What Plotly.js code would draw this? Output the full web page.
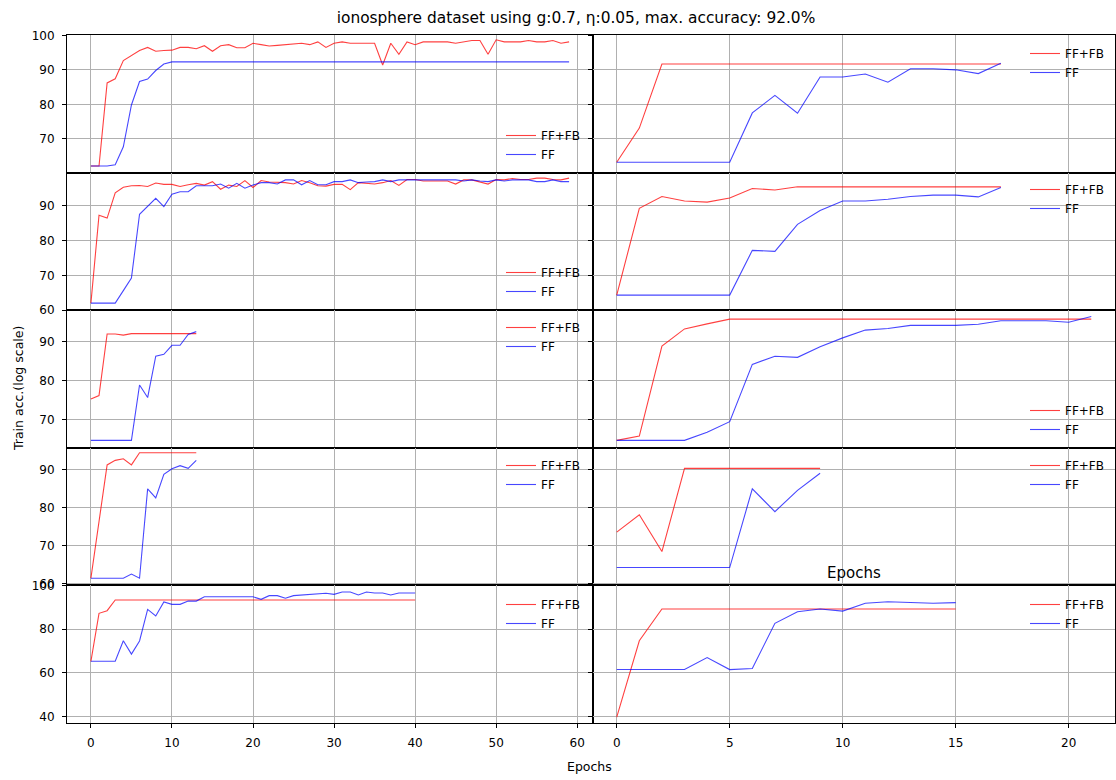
<!DOCTYPE html>
<html>
<head>
<meta charset="utf-8">
<script src="https://cdn.plot.ly/plotly-3.0.1.min.js"></script>
<style>html,body{margin:0;padding:0;background:#fff;}#chart{width:1116px;height:780px;}</style>
</head>
<body>
<div id="chart"></div>
<script>
// ---------------- data ----------------
const seriesNames = ["FF+FB", "FF"];

const r1L_ffb = [62.1,62.1,86.2,87.4,92.7,94.2,95.6,96.5,95.4,95.6,
                 95.7,96.5,96.5,96.1,97.0,95.4,97.0,97.3,96.4,96.4,
                 97.7,97.3,96.9,97.1,97.3,97.7,97.7,97.3,98.1,96.5,
                 97.7,98.1,97.7,97.7,97.7,97.7,91.4,97.7,94.5,98.1,
                 97.3,98.1,98.1,98.1,98.1,97.7,98.1,98.5,98.5,94.5,
                 98.7,98.1,98.1,98.1,98.5,98.1,98.1,98.5,97.7,98.1];
const r1L_ff  = [62.1,62.1,62.1,62.5,67.7,79.8,86.6,87.3,89.8,91.7,
                 92.3,92.3,92.3,92.3,92.3,92.3,92.3,92.3,92.3,92.3,
                 92.3,92.3,92.3,92.3,92.3,92.3,92.3,92.3,92.3,92.3,
                 92.3,92.3,92.3,92.3,92.3,92.3,92.3,92.3,92.3,92.3,
                 92.3,92.3,92.3,92.3,92.3,92.3,92.3,92.3,92.3,92.3,
                 92.3,92.3,92.3,92.3,92.3,92.3,92.3,92.3,92.3,92.3];
const r1R_ffb = [63.2,73.1,91.7,91.7,91.7,91.7,91.7,91.7,91.7,91.7,
                 91.7,91.7,91.7,91.7,91.7,91.7,91.7,91.7];
const r1R_ff  = [63.2,63.2,63.2,63.2,63.2,63.2,77.5,82.6,77.4,87.9,
                 87.9,88.8,86.4,90.3,90.3,90.0,88.9,91.9];

const r2L_ffb = [62.0,87.3,86.5,93.8,95.4,95.8,95.9,95.6,96.6,96.2,
                 96.2,95.6,96.1,96.5,96.0,97.0,94.8,96.0,95.6,97.3,
                 95.3,97.3,96.9,96.9,96.7,96.3,97.3,96.7,95.8,95.7,
                 96.2,96.2,94.7,96.7,96.5,96.3,96.7,97.3,95.9,97.6,
                 97.6,97.2,97.2,97.2,97.2,96.3,97.5,97.5,96.8,96.3,
                 97.6,97.5,97.9,97.6,97.6,98.0,98.0,97.6,97.5,98.0];
const r2L_ff  = [62.0,62.0,62.0,62.0,65.6,69.2,87.6,89.8,92.2,89.8,
                 93.4,94.1,94.1,95.8,95.8,95.8,96.3,95.1,96.5,95.1,
                 96.0,96.7,96.7,96.3,97.5,97.5,96.1,97.3,96.1,96.1,
                 97.0,97.0,97.5,96.7,96.9,97.0,97.5,97.0,97.5,97.5,
                 97.3,97.3,97.3,97.3,97.3,97.5,97.2,97.5,97.2,97.0,
                 97.5,97.2,97.5,97.5,97.5,97.0,97.0,97.5,97.0,97.0];
const r2R_ffb = [64.3,89.3,92.7,91.4,91.1,92.3,95.0,94.6,95.5,95.5,
                 95.5,95.5,95.5,95.5,95.5,95.5,95.5,95.5];
const r2R_ff  = [64.3,64.3,64.3,64.3,64.3,64.3,77.2,76.9,84.7,88.7,
                 91.4,91.4,91.9,92.7,93.1,93.1,92.6,95.3];

const r3L_ffb = [75.3,76.2,92.0,92.0,91.7,92.1,92.1,92.1,92.1,92.1,
                 92.1,92.1,92.1,92.1];
const r3L_ff  = [64.7,64.7,64.7,64.7,64.7,64.7,78.9,75.7,86.3,86.8,
                 89.1,89.1,91.9,92.6];
const r3R_ffb = [64.7,65.8,88.9,93.3,94.6,95.8,95.8,95.8,95.8,95.8,
                 95.8,95.8,95.8,95.8,95.8,95.8,95.8,95.8,95.8,95.8,
                 95.8,95.8];
const r3R_ff  = [64.7,64.7,64.7,64.7,66.8,69.5,84.2,86.3,86.0,88.7,
                 91.0,93.0,93.4,94.2,94.2,94.2,94.5,95.4,95.4,95.4,
                 95.0,96.5];

const r4L_ffb = [61.5,76.2,91.3,92.5,92.9,91.3,94.5,94.5,94.5,94.5,
                 94.5,94.5,94.5,94.5];
const r4L_ff  = [61.5,61.5,61.5,61.5,61.5,62.6,61.5,85.0,82.6,88.8,
                 90.3,91.1,90.4,92.5];
const r4R_ffb = [73.6,78.2,68.5,90.4,90.4,90.4,90.4,90.4,90.4,90.4];
const r4R_ff  = [64.3,64.3,64.3,64.3,64.3,64.3,85.0,79.0,84.6,89.1];

const r5L_ffb = [65.3,87.3,88.5,93.4,93.4,93.4,93.4,93.4,93.4,93.4,
                 93.4,93.4,93.4,93.4,93.4,93.4,93.4,93.4,93.4,93.4,
                 93.4,93.4,93.4,93.4,93.4,93.4,93.4,93.4,93.4,93.4,
                 93.4,93.4,93.4,93.4,93.4,93.4,93.4,93.4,93.4,93.4,
                 93.4];
const r5L_ff  = [65.3,65.3,65.3,65.3,74.7,68.6,74.6,89.1,86.1,92.5,
                 91.4,91.4,92.9,92.9,94.9,94.9,94.9,94.6,94.6,94.6,
                 94.9,93.7,95.4,95.4,94.2,95.4,95.7,95.7,96.2,96.5,
                 96.0,97.1,97.1,95.7,97.1,96.6,96.6,95.7,96.6,96.6,
                 96.6];
const r5R_ffb = [39.7,74.7,89.3,89.3,89.3,89.3,89.3,89.3,89.3,89.3,
                 89.3,89.3,89.3,89.3,89.3,89.3];
const r5R_ff  = [61.5,61.5,61.5,61.5,67.0,61.5,62.0,82.7,88.0,89.3,
                 88.3,91.9,92.6,92.3,91.9,92.2];

const leftXTicks  = [0, 10, 20, 30, 40, 50, 60];
const rightXTicks = [0, 5, 10, 15, 20];
const rowYTicks = [[70, 80, 90, 100], [60, 70, 80, 90], [70, 80, 90], [60, 70, 80, 90], [40, 60, 80, 100]];

const titleText = "ionosphere dataset using g:0.7, η:0.05, max. accuracy: 92.0%";
const yLabelText = "Train acc.(log scale)";
const xLabelText = "Epochs";

// ---------------- layout helpers ----------------
const panels = [
  [r1L_ffb, r1L_ff], [r1R_ffb, r1R_ff],
  [r2L_ffb, r2L_ff], [r2R_ffb, r2R_ff],
  [r3L_ffb, r3L_ff], [r3R_ffb, r3R_ff],
  [r4L_ffb, r4L_ff], [r4R_ffb, r4R_ff],
  [r5L_ffb, r5L_ff], [r5R_ffb, r5R_ff]
];
const rowYRange = [[60.2, 100.1], [59.95, 99.6], [62.8, 98.1], [59.6, 95.8], [37.0, 100.1]];
const colXRange = [[-2.95, 61.95], [-1.05, 22.05]];

const W = 1116, H = 780;
const M = {l: 67, r: 1, t: 35, b: 57, autoexpand: false};
const PW = W - M.l - M.r, PH = H - M.t - M.b;
const px2x = p => (p - M.l) / PW;
const px2y = p => (H - M.b - p) / PH;
const colSplit = px2x(593);

// legend placement: [left px of text, centre px of first item]
const legendPos = [
  [541, 135], [1065, 53],
  [541, 272], [1065, 189],
  [541, 327], [1065, 410],
  [541, 465], [1065, 465],
  [541, 604], [1065, 604]
];

const FONT = "DejaVu Sans, Liberation Sans, sans-serif";
const colors = ["rgba(255,0,0,0.75)", "rgba(0,0,255,0.72)"];

const traces = [];
const layout = {
  width: W, height: H,
  margin: M,
  paper_bgcolor: "#fff", plot_bgcolor: "#fff",
  font: {family: FONT, size: 12, color: "#000"},
  showlegend: true,
  title: {text: titleText, x: 576 / W, xanchor: "center", y: 1 - 18 / H, yanchor: "middle",
          xref: "container", yref: "container", font: {size: 15.4, family: FONT, color: "#000"}},
  annotations: [
    {text: yLabelText, xref: "paper", yref: "paper", x: px2x(18), y: px2y(389), textangle: -90,
     showarrow: false, xanchor: "center", yanchor: "middle", font: {size: 12.5, family: FONT}},
    {text: xLabelText, xref: "paper", yref: "paper", x: px2x(589), y: px2y(766),
     showarrow: false, xanchor: "center", yanchor: "middle", font: {size: 12.5, family: FONT}},
    {text: xLabelText, xref: "paper", yref: "paper", x: px2x(854), y: px2y(573),
     showarrow: false, xanchor: "center", yanchor: "middle", font: {size: 15, family: FONT}}
  ]
};

panels.forEach((pair, i) => {
  const row = Math.floor(i / 2), col = i % 2;
  const n = i + 1;
  const xa = n === 1 ? "x" : "x" + n, ya = n === 1 ? "y" : "y" + n;
  const legName = n === 1 ? "legend" : "legend" + n;
  pair.forEach((ys, s) => {
    traces.push({
      type: "scatter", mode: "lines",
      x: ys.map((_, k) => k), y: ys,
      name: seriesNames[s],
      xaxis: xa, yaxis: ya, legend: legName,
      line: {color: colors[s], width: 1.1},
      hoverinfo: "skip"
    });
  });
  const xKey = n === 1 ? "xaxis" : "xaxis" + n;
  const yKey = n === 1 ? "yaxis" : "yaxis" + n;
  layout[xKey] = {
    domain: col === 0 ? [0, colSplit] : [colSplit, 1],
    anchor: ya,
    range: colXRange[col],
    tickvals: col === 0 ? leftXTicks : rightXTicks,
    ticktext: (col === 0 ? leftXTicks : rightXTicks).map(String),
    showticklabels: row === 4,
    ticks: "outside", ticklen: 4, tickcolor: "#000", tickwidth: 1,
    ticklabelstandoff: 5,
    showgrid: true, gridcolor: "#b0b0b0", gridwidth: 1,
    zeroline: false,
    showline: true, mirror: true, linecolor: "#000", linewidth: 1,
    tickfont: {size: 12, family: FONT, color: "#000"},
    automargin: false, fixedrange: true
  };
  layout[yKey] = {
    domain: [1 - (row + 1) / 5, 1 - row / 5],
    anchor: xa,
    range: rowYRange[row],
    tickvals: rowYTicks[row],
    ticktext: rowYTicks[row].map(String),
    showticklabels: col === 0,
    ticks: "outside", ticklen: 4, tickcolor: "#000", tickwidth: 1,
    ticklabelstandoff: 5,
    showgrid: true, gridcolor: "#b0b0b0", gridwidth: 1,
    zeroline: false,
    showline: true, mirror: true, linecolor: "#000", linewidth: 1,
    tickfont: {size: 12, family: FONT, color: "#000"},
    automargin: false, fixedrange: true
  };
  const lp = legendPos[i];
  layout[legName] = {
    x: px2x(lp[0] - 40), y: px2y(lp[1] - 14),
    xanchor: "left", yanchor: "top",
    xref: "paper", yref: "paper",
    bgcolor: "rgba(0,0,0,0)", borderwidth: 0,
    font: {size: 12, family: FONT, color: "#000"},
    tracegroupgap: 0, itemwidth: 30, itemclick: false, itemdoubleclick: false
  };
});

Plotly.newPlot("chart", traces, layout, {displayModeBar: false, staticPlot: true});
</script>
</body>
</html>
